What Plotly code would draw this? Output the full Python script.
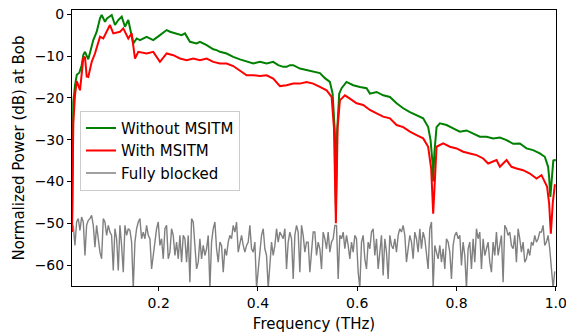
import numpy as np
import plotly.graph_objects as go

# ---- data ----
green_f = [0.0254, 0.0268, 0.028, 0.0315, 0.035, 0.0401, 0.0449, 0.0482, 0.0516, 0.0582, 0.0651, 0.0683,
           0.0752, 0.0818, 0.0852, 0.0919, 0.0959, 0.1054, 0.112, 0.1186, 0.1255, 0.1321, 0.1388, 0.1456,
           0.1489, 0.1557, 0.1623, 0.1758, 0.1891, 0.2026, 0.2161, 0.2228, 0.2362, 0.2463, 0.253, 0.263,
           0.2765, 0.2832, 0.2967, 0.3033, 0.31, 0.3168, 0.3234, 0.3369, 0.3502, 0.3637, 0.3772, 0.3905,
           0.404, 0.4175, 0.4308, 0.4408, 0.4509, 0.4577, 0.4644, 0.4711, 0.4845, 0.498, 0.5113, 0.5248,
           0.5349, 0.5449, 0.5504, 0.555, 0.557, 0.5595, 0.5637, 0.5685, 0.5784, 0.5919, 0.6054, 0.6188,
           0.6255, 0.639, 0.6523, 0.6658, 0.6793, 0.6926, 0.7061, 0.7195, 0.7328, 0.7429, 0.7477, 0.7518,
           0.753, 0.7555, 0.7598, 0.7665, 0.78, 0.7932, 0.8067, 0.8202, 0.8335, 0.847, 0.8605, 0.8738,
           0.8873, 0.9008, 0.9141, 0.9276, 0.941, 0.9543, 0.9678, 0.9779, 0.9845, 0.9866, 0.989, 0.992,
           0.995, 0.998, 1.0]
green_db = [-52, -28.5, -21, -17, -14.5, -14, -12.2, -9.7, -9, -10.8, -7.5, -6.2,
            -4.2, -1, -0.2, -1.8, -1, -0.2, -2.6, -1.4, -0.6, -3, -1.4, -5,
            -7, -5.8, -6.2, -5.4, -6.2, -5, -3.8, -4.2, -4.6, -5, -4.6, -6.6,
            -7, -6.6, -7.4, -7.8, -8.4, -8.6, -9.0, -9.4, -10.2, -10.8, -11.4, -11.8,
            -11.4, -11.8, -11.4, -12.2, -12.6, -12.6, -12.2, -12.2, -13, -13.4, -13.8, -14.1,
            -15.3, -16.2, -19, -28.5, -46, -28, -19, -17.7, -16.2, -17, -17.4, -17.7,
            -19, -18.6, -19.4, -19.8, -21.3, -22.5, -23.4, -24.1, -24.9, -27, -30.1, -35.7,
            -40, -33, -27, -26.1, -26.5, -27.3, -28.1, -27.8, -28.5, -29.3, -29.3, -29.7,
            -29.5, -30.1, -31.0, -30.9, -32.1, -32.5, -33.3, -34.1, -36.5, -39, -43.7, -38,
            -35, -34.9, -35]

red_f = [0.0254, 0.0268, 0.028, 0.0315, 0.035, 0.0415, 0.0482, 0.0516, 0.055, 0.0582, 0.0651, 0.0717,
         0.0818, 0.0884, 0.1019, 0.1086, 0.1221, 0.1287, 0.1388, 0.1456, 0.1489, 0.1523, 0.1589, 0.1758,
         0.1891, 0.2026, 0.2161, 0.2294, 0.2429, 0.2564, 0.2697, 0.2832, 0.2967, 0.31, 0.3234, 0.3369,
         0.3502, 0.3637, 0.3772, 0.3905, 0.404, 0.4175, 0.4308, 0.4443, 0.4577, 0.4711, 0.4845, 0.498,
         0.5113, 0.5248, 0.5383, 0.5484, 0.553, 0.557, 0.5605, 0.5651, 0.5752, 0.5852, 0.5987, 0.612,
         0.6255, 0.639, 0.6523, 0.6658, 0.6793, 0.6926, 0.7061, 0.7195, 0.7328, 0.7429, 0.749, 0.753,
         0.757, 0.7598, 0.7731, 0.7866, 0.8001, 0.8134, 0.8269, 0.8404, 0.8537, 0.8637, 0.8806, 0.8873,
         0.9008, 0.9108, 0.9209, 0.9342, 0.9477, 0.9612, 0.9712, 0.9779, 0.9825, 0.9866, 0.99, 0.994,
         0.998, 1.0]
red_db = [-52, -35, -26, -19.3, -16, -18.2, -10.5, -10.2, -14.9, -15, -11.4, -9.4,
          -5.4, -5.8, -2.6, -4.6, -4.2, -3.4, -5.8, -4.6, -7.8, -10.6, -9, -9.4,
          -9, -11.4, -9.4, -9.8, -10.6, -11, -10.6, -11, -10.6, -11.4, -11.8, -11.8,
          -12.4, -13.4, -14.6, -14.6, -14.8, -14.6, -15.4, -17.2, -17, -16.6, -16.6, -16.2,
          -16.6, -17.4, -18.2, -19.8, -27, -50, -27, -20.6, -19.4, -20.2, -21.3, -21.7,
          -22.9, -23.7, -24.5, -24.9, -26.5, -27, -28.1, -28.9, -29.7, -31.7, -37, -47.7,
          -37, -31.7, -30.9, -31.7, -32.1, -32.9, -33.3, -33.7, -34.5, -35.7, -34.9, -36.5,
          -34.9, -36.5, -36.9, -37.3, -38.1, -39.3, -38.5, -40.1, -41.3, -45.3, -52.5, -45,
          -40.9, -41]

gray_db = [-50.5, -55.3, -49.7, -48.9, -51.7, -48.5, -49.7, -57.7, -50.5, -49.3, -48.9, -48.1, -50.5, -55.7,
           -50.5, -53.7, -56.9, -58.5, -48.9, -49.7, -52.9, -50.5, -52.1, -52.9, -61.3, -51.3, -53.7, -61.3,
           -50.5, -55.3, -61.7, -50.5, -52.9, -51.3, -51.7, -54.5, -65.5, -54.5, -51.3, -49.7, -48.9, -53.7,
           -52.1, -53.7, -50.5, -52.9, -53.7, -60.9, -56.9, -54.5, -51.3, -49.7, -55.3, -53.7, -58.5, -51.3,
           -50.5, -58.5, -56.9, -51.3, -52.9, -57.7, -54.5, -58.5, -52.9, -59.3, -52.9, -53.7, -59.3, -52.9,
           -64.1, -48.9, -49.7,
           -54.5, -60.9, -59.3, -53.7, -58.5, -55.3, -57.7, -56.1, -52.9, -65.5, -54.5, -51.3, -49.7, -56.1,
           -59.3, -54.5, -55.3, -61.7, -56.1, -57.7, -54.5, -52.9, -53.7, -50.5, -52.1, -49.7, -56.9, -54.5,
           -52.9, -55.3, -56.9, -55.3, -54.5, -50.5, -56.1, -56.9, -54.5, -65.5, -60.1, -56.9, -52.9, -51.3,
           -56.1, -57.7, -65.5, -58.5, -54.5, -57.7, -55.3, -51.3, -54.5, -52.1, -52.9, -53.7, -51.3, -60.9,
           -54.5, -52.1, -53.7, -63.3, -52.9, -50.5, -52.1, -61.7, -50.5, -52.9, -56.9, -54.5, -54.5, -61.7,
           -56.9, -52.1,
           -52.1, -57.7, -54.5, -56.1, -60.9, -52.1, -53.7, -56.1, -52.1, -56.9, -54.5, -53.7, -50.5, -50.5,
           -63.3, -52.9, -53.7, -52.1, -56.1, -52.9, -55.3, -58.5, -54.5, -56.9, -52.9, -53.7, -61.7, -65.5,
           -54.5, -52.9, -58.5, -60.9, -54.5, -56.1, -52.1, -51.3, -57.7, -53.7, -60.9, -56.9, -52.9, -62.5,
           -53.7, -56.9, -63.3, -52.9, -55.3, -56.1, -53.7, -56.9, -52.9, -51.3, -52.1, -50.5, -52.9, -59.3,
           -55.3, -52.9, -54.5, -58.5, -52.1, -53.7, -56.9, -51.3, -56.1, -52.1, -53.7, -57.7, -60.9, -51.3,
           -49.7, -65.5,
           -55.3, -56.9, -58.5, -55.3, -59.3, -56.1, -60.9, -53.7, -54.5, -56.9, -63.3, -55.3, -52.9, -52.1,
           -53.7, -52.9, -60.1, -54.5, -57.7, -65.5, -56.1, -54.5, -60.9, -53.7, -59.3, -51.3, -53.7, -52.1,
           -60.9, -53.7, -57.7, -56.1, -54.5, -59.3, -61.7, -54.5, -57.7, -52.1, -57.7, -55.3, -52.9, -64.1,
           -50.5, -51.3, -52.9, -52.1, -55.3, -56.1, -52.9, -59.3, -51.3, -53.7, -56.9, -54.5, -59.3, -58.5,
           -56.1, -57.7, -54.5, -55.3, -52.9, -54.5, -53.7, -52.1, -52.1, -50.5, -55.3, -54.5, -52.9, -56.1,
           -60.1, -65.5, -61.5]
gray_f0 = 0.028
gray_step = 0.003356
gray_f = [gray_f0 + i * gray_step for i in range(len(gray_db))]

x_ticks = [0.2, 0.4, 0.6, 0.8, 1.0]
x_ticklabels = ["0.2", "0.4", "0.6", "0.8", "1.0"]
y_ticks = [0, -10, -20, -30, -40, -50, -60]
y_ticklabels = ["0", "\u221210", "\u221220", "\u221230", "\u221240", "\u221250", "\u221260"]

FONT = "DejaVu Sans"

fig = go.Figure()
fig.add_trace(go.Scatter(x=green_f, y=green_db, mode="lines", name="Without MSITM",
                         line=dict(color="#008000", width=2)))
fig.add_trace(go.Scatter(x=red_f, y=red_db, mode="lines", name="With MSITM",
                         line=dict(color="#ff0000", width=2)))
fig.add_trace(go.Scatter(x=gray_f, y=gray_db, mode="lines", name="Fully blocked",
                         line=dict(color="#808080", width=1.4)))

axis_common = dict(showline=True, linecolor="black", linewidth=1, mirror=True,
                   ticks="outside", ticklen=4, tickcolor="black", tickwidth=1,
                   showgrid=False, zeroline=False, automargin=False,
                   ticklabeloverflow="allow",
                   tickfont=dict(family=FONT, size=14, color="black"))

fig.update_layout(
    width=566, height=333,
    margin=dict(l=72, r=10, t=10, b=47),
    plot_bgcolor="white", paper_bgcolor="white",
    font=dict(family=FONT, size=14, color="black"),
    showlegend=True,
    legend=dict(x=0.0165, y=0.635, xanchor="left", yanchor="top",
                bgcolor="rgba(255,255,255,0.8)", bordercolor="#cccccc", borderwidth=1,
                font=dict(family=FONT, size=15, color="black")),
    xaxis=dict(range=[0.0254, 1.0004], tickvals=x_ticks, ticktext=x_ticklabels,
               title=dict(text="Frequency (THz)", font=dict(family=FONT, size=15), standoff=9),
               **axis_common),
    yaxis=dict(range=[-65, 1], tickvals=y_ticks, ticktext=y_ticklabels,
               title=dict(text="Normalized Power (dB) at Bob", font=dict(family=FONT, size=15), standoff=6),
               **axis_common),
)

fig.write_html("out.html")
